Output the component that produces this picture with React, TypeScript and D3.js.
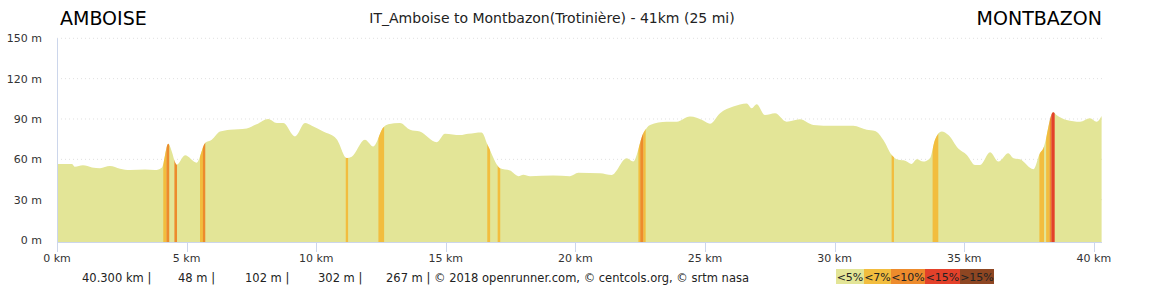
import React from "react";
import * as d3 from "d3";

// ---- Data ----
const distKm = [
  0, 0.58, 0.69, 1.0, 1.35, 1.66, 2.04, 2.43, 2.82, 3.4, 3.78, 4.05, 4.29, 4.44, 4.55, 4.62, 4.94, 5.39, 5.71, 5.97,
  6.29, 6.67, 7.32, 7.7, 8.15, 8.48, 8.73, 9.18, 9.57, 9.83, 10.27, 10.79, 11.18, 11.37, 11.88, 12.2, 12.59, 12.78,
  13.23, 13.62, 14.0, 14.65, 14.97, 15.55, 15.87, 16.38, 16.64, 17.09, 17.48, 17.8, 17.99, 18.25, 19.15, 19.79,
  20.11, 20.95, 21.4, 21.98, 22.23, 22.62, 22.88, 23.52, 23.91, 24.42, 24.93, 25.19, 25.58, 26.09, 26.61, 26.8,
  26.99, 27.31, 27.7, 28.15, 28.66, 29.18, 29.95, 30.72, 31.24, 31.56, 31.88, 32.2, 32.46, 32.72, 32.97, 33.17,
  33.42, 33.68, 33.87, 34.13, 34.39, 34.77, 35.1, 35.42, 35.61, 36.0, 36.32, 36.7, 36.9, 37.15, 37.67, 37.92,
  38.05, 38.43, 38.56, 38.95, 39.47, 39.85, 40.11, 40.3,
];
const elevM = [
  56.6, 56.6, 54.5, 55.5, 54, 53.4, 55, 53, 52, 52.5, 52, 54, 71.5, 65, 58, 56, 63, 57.5, 72, 74.5,
  80.6, 82, 83, 86, 90, 87, 87, 77, 87, 85, 80.6, 75, 61, 62, 74.5, 69.5, 83.6, 86,
  87, 82, 80.6, 72.7, 79, 78, 79, 80, 69.5, 53.4, 51.6, 47.5, 48.5, 47.5, 48, 47.5,
  50, 49.6, 48.4, 60.8, 58.3, 79.4, 85.6, 88, 88, 91.8, 88.8, 86.4, 94.3, 99.2, 101.5, 98,
  101, 93, 94.3, 88, 89.8, 85.6, 84.9, 84.9, 81.9, 81, 74.4, 63.3, 59.6, 59, 56.6, 60,
  58.3, 60.8, 74.4, 80.6, 78, 68, 63.3, 55.8, 55.8, 65.3, 58.3, 64.5, 60.8, 60, 52.6, 64.5,
  68, 95, 93, 89.3, 88, 90.6, 88, 92.3,
];

// gradient bands: start km, end km, class index (1=<7%, 2=<10%, 3=<15%)
const bandStart = [4.1, 4.22, 4.53, 5.52, 5.63, 11.14, 12.4, 16.6, 17.0, 22.43, 22.5, 22.63, 32.2, 33.78, 37.9, 38.16, 38.29, 38.36];
const bandEnd = [4.22, 4.33, 4.63, 5.63, 5.72, 11.23, 12.62, 16.71, 17.1, 22.5, 22.63, 22.71, 32.29, 34.0, 38.08, 38.29, 38.36, 38.49];
const bandClass = [1, 2, 2, 1, 2, 1, 1, 1, 1, 1, 2, 1, 1, 1, 1, 1, 2, 3];

const slopeLabels = ["<5%", "<7%", "<10%", "<15%", ">15%"];
const slopeColors = ["#e3e597", "#f2bd3e", "#ed8b2c", "#e3412a", "#8e4622"];

const yTicks = [0, 30, 60, 90, 120, 150];
const xTicks = [0, 5, 10, 15, 20, 25, 30, 35, 40];

const startName = "AMBOISE";
const endName = "MONTBAZON";
const title = "IT_Amboise to Montbazon(Trotinière) - 41km (25 mi)";
const footerItems = ["40.300 km |", "48 m |", "102 m |", "302 m |", "267 m | © 2018 openrunner.com, © centcols.org, © srtm nasa"];
const footerX = [82, 178, 245, 318, 386];

const FONT = "'DejaVu Sans', sans-serif";

export default function App() {
  const W = 1150;
  const H = 288;
  const x = d3.scaleLinear().domain([0, 40.3]).range([57, 1101.6]);
  const y = d3.scaleLinear().domain([0, 150]).range([240, 38.3]);
  const base = 242;

  const pts: [number, number][] = distKm.map((d, i) => [d, elevM[i]]);

  const area = d3
    .area<[number, number]>()
    .x((d) => x(d[0]))
    .y0(base)
    .y1((d) => y(d[1]))
    .curve(d3.curveMonotoneX);
  const profilePath = area(pts) as string;

  const legendX = [836, 864, 891, 925, 960, 994];

  return (
    <svg
      width={W}
      height={H}
      style={{ position: "absolute", left: 0, top: 0, background: "#fff" }}
      fontFamily={FONT}
    >
      <defs>
        {bandStart.map((a, i) => (
          <clipPath key={i} id={`band${i}`}>
            <rect x={x(a)} y={0} width={x(bandEnd[i]) - x(a)} height={H} />
          </clipPath>
        ))}
      </defs>
      {/* grid */}
      {yTicks.slice(1).map((t) => (
        <line key={t} x1={57} x2={1102} y1={y(t)} y2={y(t)} stroke="#e0e0e0" strokeWidth={1} strokeDasharray="1,3" />
      ))}
      {/* profile */}
      <path d={profilePath} fill={slopeColors[0]} />
      {bandStart.map((a, i) => (
        <path key={i} d={profilePath} fill={slopeColors[bandClass[i]]} clipPath={`url(#band${i})`} />
      ))}
      {/* axes */}
      <line x1={57.5} x2={57.5} y1={y(150)} y2={base} stroke="#ccd6eb" strokeWidth={1} />
      <line x1={57} x2={1102} y1={base + 0.5} y2={base + 0.5} stroke="#ccd6eb" strokeWidth={1} />
      {xTicks.map((t) => (
        <g key={t}>
          <line x1={Math.round(x(t)) + 0.5} x2={Math.round(x(t)) + 0.5} y1={base} y2={base + 10} stroke="#ccd6eb" />
          <text x={x(t)} y={262} textAnchor="middle" fontSize={11} fill="#333">
            {t} km
          </text>
        </g>
      ))}
      {yTicks.map((t) => (
        <text key={t} x={42} y={y(t) + 4} textAnchor="end" fontSize={11} fill="#333">
          {t} m
        </text>
      ))}
      {/* titles */}
      <text x={60} y={25} fontSize={19} fill="#000">
        {startName}
      </text>
      <text x={1102} y={25} fontSize={19} fill="#000" textAnchor="end">
        {endName}
      </text>
      <text x={552} y={23} fontSize={14} fill="#222" textAnchor="middle">
        {title}
      </text>
      {/* footer */}
      {footerItems.map((s, i) => (
        <text key={i} x={footerX[i]} y={282} fontSize={11.5} fill="#222">
          {s}
        </text>
      ))}
      {/* legend */}
      {slopeLabels.map((s, i) => (
        <g key={s}>
          <rect x={legendX[i]} y={269} width={legendX[i + 1] - legendX[i]} height={15} fill={slopeColors[i]} />
          <text x={(legendX[i] + legendX[i + 1]) / 2} y={281} fontSize={11} textAnchor="middle" fill="#222">
            {s}
          </text>
        </g>
      ))}
    </svg>
  );
}
